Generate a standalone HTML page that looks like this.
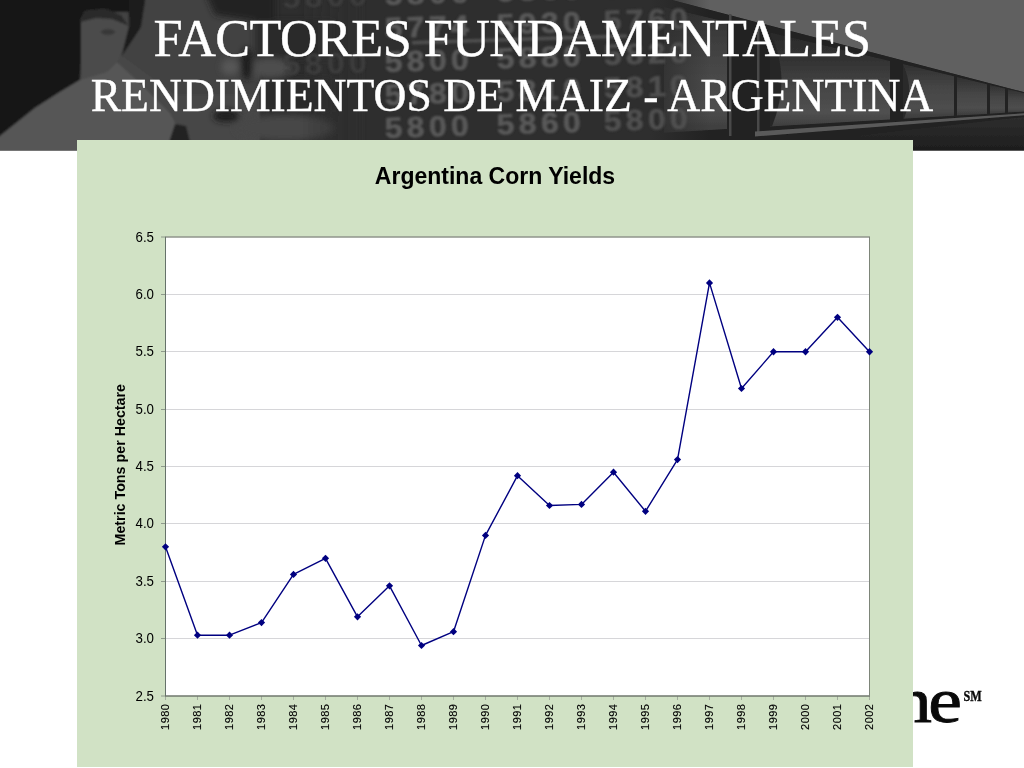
<!DOCTYPE html>
<html><head><meta charset="utf-8"><title>Argentina Corn Yields</title>
<style>
html,body{margin:0;padding:0;background:#fff;}
body{width:1024px;height:768px;position:relative;overflow:hidden;font-family:"Liberation Sans",sans-serif;}
#hdr{position:absolute;left:0;top:0;width:1024px;height:151px;background:#fff;overflow:hidden;}
.t{position:absolute;left:0;width:1024px;text-align:center;color:#fff;font-family:"Liberation Serif",serif;white-space:nowrap;}
#t1{top:8.6px;font-size:52.2px;line-height:58px;left:0px;letter-spacing:-0.55px;-webkit-text-stroke:0.4px #fff;}
#t2{top:70.1px;font-size:45.6px;line-height:52px;-webkit-text-stroke:0.4px #fff;}
#panel{position:absolute;left:77px;top:140px;width:836px;height:626px;background:#d2e3c8;}
#logo{position:absolute;font-family:"Liberation Serif",serif;color:#0a0a0a;}
svg{position:absolute;left:0;top:0;}
</style></head><body>
<div id="hdr"><svg width="1024" height="151" viewBox="0 0 1024 151" style="position:absolute;left:0;top:0">
<defs>
<filter id="b1" x="-5%" y="-20%" width="110%" height="140%"><feGaussianBlur stdDeviation="1.1"/></filter>
<filter id="b0" x="-5%" y="-20%" width="110%" height="140%"><feGaussianBlur stdDeviation="0.7"/></filter>
<filter id="b3" x="-20%" y="-30%" width="140%" height="160%"><feGaussianBlur stdDeviation="3"/></filter>
<linearGradient id="car" x1="0" y1="0" x2="0" y2="1"><stop offset="0" stop-color="#2a2a2a"/><stop offset="0.3" stop-color="#333"/><stop offset="0.6" stop-color="#464646"/><stop offset="0.85" stop-color="#505050"/><stop offset="1" stop-color="#3e3e3e"/></linearGradient>
<linearGradient id="car2" x1="0" y1="0" x2="0" y2="1"><stop offset="0" stop-color="#303030"/><stop offset="0.4" stop-color="#444"/><stop offset="0.8" stop-color="#4e4e4e"/><stop offset="1" stop-color="#3c3c3c"/></linearGradient>
<linearGradient id="fadeL" x1="0" y1="0" x2="1" y2="0"><stop offset="0" stop-color="#2e2e2e" stop-opacity="1"/><stop offset="1" stop-color="#2e2e2e" stop-opacity="0"/></linearGradient>
<linearGradient id="fadeM" x1="0" y1="0" x2="1" y2="0"><stop offset="0" stop-color="#2e2e2e" stop-opacity="0"/><stop offset="1" stop-color="#2e2e2e" stop-opacity="1"/></linearGradient>
<linearGradient id="gnd" x1="0" y1="0" x2="0" y2="1"><stop offset="0" stop-color="#2e2e2e"/><stop offset="1" stop-color="#1b1b1b"/></linearGradient>
<clipPath id="hc"><rect width="1024" height="150.5"/></clipPath>
</defs>
<g clip-path="url(#hc)">
<rect width="1024" height="151" fill="#2e2e2e"/>
<g filter="url(#b1)">
<rect x="-5" y="-5" width="265" height="160" fill="#434343"/>
<polygon points="-5,-5 132,-5 130,12 84,12 80,80 60,92 35,108 -5,140" fill="#181818"/>
<polygon points="81,20 85,11 105,9 121,15 129,26 125,42 119,60 107,72 81,80" fill="#4b4b4b"/>
<polygon points="81,22 85,11 105,9 121,15 129,26 112,19 96,18" fill="#2b2b2b"/>
<ellipse cx="108" cy="32" rx="7" ry="3" fill="#383838"/>
<polygon points="128,-5 146,-5 141,27 122,56 125,42 129,26" fill="#1a1a1a"/>
<polygon points="-5,140 35,108 60,92 80,80 107,72 117,62 141,84 170,113 190,150 -5,155" fill="#575757"/>
<polygon points="117,62 141,84 170,113 190,150 260,150 260,95 175,95 122,56" fill="#474747"/>
<polygon points="169,142 175,124 186,126 190,142" fill="#222"/>
</g>
<g filter="url(#b3)">
<polygon points="205,-8 275,-8 275,24 215,15" fill="#232323"/>
<rect x="255" y="20" width="80" height="40" fill="#2c2c2c"/>
<rect x="262" y="78" width="70" height="34" fill="#2c2c2c"/>
<ellipse cx="270" cy="68" rx="22" ry="10" fill="#4d4d4d"/>
<ellipse cx="247" cy="64" rx="6" ry="16" fill="#1c1c1c"/>
<ellipse cx="230" cy="67" rx="9" ry="8" fill="#575757"/>
<ellipse cx="226" cy="116" rx="13" ry="6" fill="#1b1b1b"/>
<ellipse cx="285" cy="128" rx="50" ry="13" fill="#474747"/>
<rect x="300" y="-5" width="60" height="160" fill="url(#fadeM)"/>
</g>
<g filter="url(#b0)">
<polygon points="650,-5 1030,-5 1030,93.8 672,0 650,-2" fill="#606060"/>
<polygon points="672,0 1030,93.8 1030,155 650,155 650,0" fill="#202020"/>
<polygon points="664,7.0 727,22.1 727,129.1 664,132.8" fill="url(#car2)"/>
<polygon points="770,32.4 890,61.0 890,119.6 770,126.6" fill="url(#car)"/>
<polygon points="903,64.1 954,76.3 954,115.8 903,118.8" fill="url(#car2)"/>
<polygon points="957,77.0 987,84.2 987,113.9 957,115.6" fill="url(#car2)"/>
<polygon points="990,84.9 1005,88.5 1005,112.8 990,113.7" fill="url(#car2)"/>
<polygon points="1008,89.2 1030,94.5 1030,111.3 1008,112.6" fill="url(#car2)"/>
<path d="M770,32.7 Q792,76.1 772,126.6 L770,126.6 Z" fill="#282828"/>
<path d="M903,64.5 Q915,89.7 904,118.8 L903,118.8 Z" fill="#2a2a2a"/>
<rect x="729" y="14" width="2.5" height="122" fill="#4a4a4a"/><rect x="757" y="22" width="2.5" height="114" fill="#4a4a4a"/>
<polygon points="755,131.5 1030,112.8 1030,114.8 755,136.5" fill="#5a5a5a"/>
<polygon points="860,135.3 1030,116.3 1030,155 840,155" fill="url(#gnd)"/>
</g>
<rect x="650" y="0" width="60" height="150" fill="url(#fadeL)"/>
<g filter="url(#b1)"><rect x="412" y="41" width="215" height="3.5" fill="#505050" transform="rotate(-1.8 412 43)"/></g>
<g filter="url(#b1)" font-family="Liberation Sans, sans-serif" font-weight="bold" font-size="29" fill="#595959" stroke="#595959" stroke-width="0.6" letter-spacing="4">
<text transform="translate(385,5) rotate(-1.8) scale(1.1,1)">5800</text>
<text transform="translate(497,1.5) rotate(-1.8) scale(1.1,1)">5860</text>
<text transform="translate(604,-2) rotate(-1.8) scale(1.1,1)" fill="#505050" stroke="#505050">5800</text>
<text transform="translate(283,8) rotate(-1.8) scale(1.1,1)" fill="#3d3d3d" stroke="none">5800</text>
<text transform="translate(385,38) rotate(-1.8) scale(1.1,1)">5774</text>
<text transform="translate(497,34.5) rotate(-1.8) scale(1.1,1)">5930</text>
<text transform="translate(604,31) rotate(-1.8) scale(1.1,1)" fill="#505050" stroke="#505050">5760</text>
<text transform="translate(385,72) rotate(-1.8) scale(1.1,1)">5800</text>
<text transform="translate(497,68.5) rotate(-1.8) scale(1.1,1)">5880</text>
<text transform="translate(604,65) rotate(-1.8) scale(1.1,1)" fill="#505050" stroke="#505050">5820</text>
<text transform="translate(283,75) rotate(-1.8) scale(1.1,1)" fill="#3d3d3d" stroke="none">5800</text>
<text transform="translate(385,105) rotate(-1.8) scale(1.1,1)">5780</text>
<text transform="translate(497,101.5) rotate(-1.8) scale(1.1,1)">5810</text>
<text transform="translate(604,98) rotate(-1.8) scale(1.1,1)" fill="#505050" stroke="#505050">5810</text>
<text transform="translate(385,138) rotate(-1.8) scale(1.1,1)">5800</text>
<text transform="translate(497,134.5) rotate(-1.8) scale(1.1,1)">5860</text>
<text transform="translate(604,131) rotate(-1.8) scale(1.1,1)" fill="#505050" stroke="#505050">5800</text>
</g>
</g></svg></div>
<svg width="1024" height="768" viewBox="0 0 1024 768" font-family="Liberation Sans, sans-serif" fill="#000">
<g font-family="Liberation Serif, serif" fill="#0a0a0a" stroke="#0a0a0a">
<text transform="translate(872.9,722.2) scale(1.2,1)" font-size="63.2" stroke-width="0.8">m</text>
<text transform="translate(928.3,722.2) scale(1.2,1)" font-size="63.2" stroke-width="0.8">e</text>
<text transform="translate(963.6,701) scale(0.88,1)" font-size="13.8" font-weight="bold" stroke-width="0.35">SM</text>
</g>
<rect x="77" y="140" width="836" height="627" fill="#d1e2c5"/>
<rect x="165.5" y="237.0" width="704.0" height="459.0" fill="#fff"/>
<line x1="165.5" y1="638.5" x2="869.5" y2="638.5" stroke="#d6d6d9" stroke-width="1"/>
<line x1="165.5" y1="581.5" x2="869.5" y2="581.5" stroke="#d6d6d9" stroke-width="1"/>
<line x1="165.5" y1="523.5" x2="869.5" y2="523.5" stroke="#d6d6d9" stroke-width="1"/>
<line x1="165.5" y1="466.5" x2="869.5" y2="466.5" stroke="#d6d6d9" stroke-width="1"/>
<line x1="165.5" y1="409.5" x2="869.5" y2="409.5" stroke="#d6d6d9" stroke-width="1"/>
<line x1="165.5" y1="351.5" x2="869.5" y2="351.5" stroke="#d6d6d9" stroke-width="1"/>
<line x1="165.5" y1="294.5" x2="869.5" y2="294.5" stroke="#d6d6d9" stroke-width="1"/>

<line x1="161" y1="696.0" x2="166" y2="696.0" stroke="#8e9a8b" stroke-width="1"/>
<line x1="161" y1="638.5" x2="166" y2="638.5" stroke="#8e9a8b" stroke-width="1"/>
<line x1="161" y1="581.5" x2="166" y2="581.5" stroke="#8e9a8b" stroke-width="1"/>
<line x1="161" y1="523.5" x2="166" y2="523.5" stroke="#8e9a8b" stroke-width="1"/>
<line x1="161" y1="466.5" x2="166" y2="466.5" stroke="#8e9a8b" stroke-width="1"/>
<line x1="161" y1="409.5" x2="166" y2="409.5" stroke="#8e9a8b" stroke-width="1"/>
<line x1="161" y1="351.5" x2="166" y2="351.5" stroke="#8e9a8b" stroke-width="1"/>
<line x1="161" y1="294.5" x2="166" y2="294.5" stroke="#8e9a8b" stroke-width="1"/>
<line x1="161" y1="237.0" x2="166" y2="237.0" stroke="#8e9a8b" stroke-width="1"/>
<line x1="165.5" y1="696" x2="165.5" y2="700" stroke="#a3ad9e" stroke-width="1"/>
<line x1="197.5" y1="696" x2="197.5" y2="700" stroke="#a3ad9e" stroke-width="1"/>
<line x1="229.5" y1="696" x2="229.5" y2="700" stroke="#a3ad9e" stroke-width="1"/>
<line x1="261.5" y1="696" x2="261.5" y2="700" stroke="#a3ad9e" stroke-width="1"/>
<line x1="293.5" y1="696" x2="293.5" y2="700" stroke="#a3ad9e" stroke-width="1"/>
<line x1="325.5" y1="696" x2="325.5" y2="700" stroke="#a3ad9e" stroke-width="1"/>
<line x1="357.5" y1="696" x2="357.5" y2="700" stroke="#a3ad9e" stroke-width="1"/>
<line x1="389.5" y1="696" x2="389.5" y2="700" stroke="#a3ad9e" stroke-width="1"/>
<line x1="421.5" y1="696" x2="421.5" y2="700" stroke="#a3ad9e" stroke-width="1"/>
<line x1="453.5" y1="696" x2="453.5" y2="700" stroke="#a3ad9e" stroke-width="1"/>
<line x1="485.5" y1="696" x2="485.5" y2="700" stroke="#a3ad9e" stroke-width="1"/>
<line x1="517.5" y1="696" x2="517.5" y2="700" stroke="#a3ad9e" stroke-width="1"/>
<line x1="549.5" y1="696" x2="549.5" y2="700" stroke="#a3ad9e" stroke-width="1"/>
<line x1="581.5" y1="696" x2="581.5" y2="700" stroke="#a3ad9e" stroke-width="1"/>
<line x1="613.5" y1="696" x2="613.5" y2="700" stroke="#a3ad9e" stroke-width="1"/>
<line x1="645.5" y1="696" x2="645.5" y2="700" stroke="#a3ad9e" stroke-width="1"/>
<line x1="677.5" y1="696" x2="677.5" y2="700" stroke="#a3ad9e" stroke-width="1"/>
<line x1="709.5" y1="696" x2="709.5" y2="700" stroke="#a3ad9e" stroke-width="1"/>
<line x1="741.5" y1="696" x2="741.5" y2="700" stroke="#a3ad9e" stroke-width="1"/>
<line x1="773.5" y1="696" x2="773.5" y2="700" stroke="#a3ad9e" stroke-width="1"/>
<line x1="805.5" y1="696" x2="805.5" y2="700" stroke="#a3ad9e" stroke-width="1"/>
<line x1="837.5" y1="696" x2="837.5" y2="700" stroke="#a3ad9e" stroke-width="1"/>
<line x1="869.5" y1="696" x2="869.5" y2="700" stroke="#a3ad9e" stroke-width="1"/>

<line x1="165" y1="237.0" x2="870" y2="237.0" stroke="#8f948b" stroke-width="1.5"/>
<line x1="165" y1="696.0" x2="870" y2="696.0" stroke="#6f776c" stroke-width="1.5"/>
<line x1="165.5" y1="237.0" x2="165.5" y2="696.0" stroke="#66726a" stroke-width="1"/>
<line x1="869.5" y1="237.0" x2="869.5" y2="696.0" stroke="#7d8579" stroke-width="1"/>
<g><text transform="translate(154,700.6) scale(0.93,1)" text-anchor="end" font-size="14.3">2.5</text>
<text transform="translate(154,643.1) scale(0.93,1)" text-anchor="end" font-size="14.3">3.0</text>
<text transform="translate(154,586.1) scale(0.93,1)" text-anchor="end" font-size="14.3">3.5</text>
<text transform="translate(154,528.1) scale(0.93,1)" text-anchor="end" font-size="14.3">4.0</text>
<text transform="translate(154,471.1) scale(0.93,1)" text-anchor="end" font-size="14.3">4.5</text>
<text transform="translate(154,414.1) scale(0.93,1)" text-anchor="end" font-size="14.3">5.0</text>
<text transform="translate(154,356.1) scale(0.93,1)" text-anchor="end" font-size="14.3">5.5</text>
<text transform="translate(154,299.1) scale(0.93,1)" text-anchor="end" font-size="14.3">6.0</text>
<text transform="translate(154,241.6) scale(0.93,1)" text-anchor="end" font-size="14.3">6.5</text>
</g>
<g><text transform="translate(169.2,729.9) rotate(-90)" font-size="11" stroke="#000" stroke-width="0.12" textLength="25.8" lengthAdjust="spacing">1980</text>
<text transform="translate(201.2,729.9) rotate(-90)" font-size="11" stroke="#000" stroke-width="0.12" textLength="25.8" lengthAdjust="spacing">1981</text>
<text transform="translate(233.2,729.9) rotate(-90)" font-size="11" stroke="#000" stroke-width="0.12" textLength="25.8" lengthAdjust="spacing">1982</text>
<text transform="translate(265.2,729.9) rotate(-90)" font-size="11" stroke="#000" stroke-width="0.12" textLength="25.8" lengthAdjust="spacing">1983</text>
<text transform="translate(297.2,729.9) rotate(-90)" font-size="11" stroke="#000" stroke-width="0.12" textLength="25.8" lengthAdjust="spacing">1984</text>
<text transform="translate(329.2,729.9) rotate(-90)" font-size="11" stroke="#000" stroke-width="0.12" textLength="25.8" lengthAdjust="spacing">1985</text>
<text transform="translate(361.2,729.9) rotate(-90)" font-size="11" stroke="#000" stroke-width="0.12" textLength="25.8" lengthAdjust="spacing">1986</text>
<text transform="translate(393.2,729.9) rotate(-90)" font-size="11" stroke="#000" stroke-width="0.12" textLength="25.8" lengthAdjust="spacing">1987</text>
<text transform="translate(425.2,729.9) rotate(-90)" font-size="11" stroke="#000" stroke-width="0.12" textLength="25.8" lengthAdjust="spacing">1988</text>
<text transform="translate(457.2,729.9) rotate(-90)" font-size="11" stroke="#000" stroke-width="0.12" textLength="25.8" lengthAdjust="spacing">1989</text>
<text transform="translate(489.2,729.9) rotate(-90)" font-size="11" stroke="#000" stroke-width="0.12" textLength="25.8" lengthAdjust="spacing">1990</text>
<text transform="translate(521.2,729.9) rotate(-90)" font-size="11" stroke="#000" stroke-width="0.12" textLength="25.8" lengthAdjust="spacing">1991</text>
<text transform="translate(553.2,729.9) rotate(-90)" font-size="11" stroke="#000" stroke-width="0.12" textLength="25.8" lengthAdjust="spacing">1992</text>
<text transform="translate(585.2,729.9) rotate(-90)" font-size="11" stroke="#000" stroke-width="0.12" textLength="25.8" lengthAdjust="spacing">1993</text>
<text transform="translate(617.2,729.9) rotate(-90)" font-size="11" stroke="#000" stroke-width="0.12" textLength="25.8" lengthAdjust="spacing">1994</text>
<text transform="translate(649.2,729.9) rotate(-90)" font-size="11" stroke="#000" stroke-width="0.12" textLength="25.8" lengthAdjust="spacing">1995</text>
<text transform="translate(681.2,729.9) rotate(-90)" font-size="11" stroke="#000" stroke-width="0.12" textLength="25.8" lengthAdjust="spacing">1996</text>
<text transform="translate(713.2,729.9) rotate(-90)" font-size="11" stroke="#000" stroke-width="0.12" textLength="25.8" lengthAdjust="spacing">1997</text>
<text transform="translate(745.2,729.9) rotate(-90)" font-size="11" stroke="#000" stroke-width="0.12" textLength="25.8" lengthAdjust="spacing">1998</text>
<text transform="translate(777.2,729.9) rotate(-90)" font-size="11" stroke="#000" stroke-width="0.12" textLength="25.8" lengthAdjust="spacing">1999</text>
<text transform="translate(809.2,729.9) rotate(-90)" font-size="11" stroke="#000" stroke-width="0.12" textLength="25.8" lengthAdjust="spacing">2000</text>
<text transform="translate(841.2,729.9) rotate(-90)" font-size="11" stroke="#000" stroke-width="0.12" textLength="25.8" lengthAdjust="spacing">2001</text>
<text transform="translate(873.2,729.9) rotate(-90)" font-size="11" stroke="#000" stroke-width="0.12" textLength="25.8" lengthAdjust="spacing">2002</text>
</g>
<text x="495" y="183.6" text-anchor="middle" font-size="23" font-weight="bold">Argentina Corn Yields</text>
<text transform="translate(125.3,545.5) rotate(-90)" font-size="14.67" font-weight="bold" textLength="161.5" lengthAdjust="spacingAndGlyphs">Metric Tons per Hectare</text>
<polyline points="165.5,546.8 197.5,635.2 229.5,635.2 261.5,622.6 293.5,574.4 325.5,558.3 357.5,616.8 389.5,585.8 421.5,645.5 453.5,631.7 485.5,535.4 517.5,475.7 549.5,505.5 581.5,504.4 613.5,472.2 645.5,511.3 677.5,459.6 709.5,282.9 741.5,388.5 773.5,351.8 805.5,351.8 837.5,317.3 869.5,351.8" fill="none" stroke="#000080" stroke-width="1.4" stroke-linejoin="round"/>
<path d="M165.5,543.2 L169.1,546.8 L165.5,550.4 L161.9,546.8 Z" fill="#000080"/>
<path d="M197.5,631.6 L201.1,635.2 L197.5,638.8 L193.9,635.2 Z" fill="#000080"/>
<path d="M229.5,631.6 L233.1,635.2 L229.5,638.8 L225.9,635.2 Z" fill="#000080"/>
<path d="M261.5,619.0 L265.1,622.6 L261.5,626.2 L257.9,622.6 Z" fill="#000080"/>
<path d="M293.5,570.8 L297.1,574.4 L293.5,578.0 L289.9,574.4 Z" fill="#000080"/>
<path d="M325.5,554.7 L329.1,558.3 L325.5,561.9 L321.9,558.3 Z" fill="#000080"/>
<path d="M357.5,613.2 L361.1,616.8 L357.5,620.4 L353.9,616.8 Z" fill="#000080"/>
<path d="M389.5,582.2 L393.1,585.8 L389.5,589.4 L385.9,585.8 Z" fill="#000080"/>
<path d="M421.5,641.9 L425.1,645.5 L421.5,649.1 L417.9,645.5 Z" fill="#000080"/>
<path d="M453.5,628.1 L457.1,631.7 L453.5,635.3 L449.9,631.7 Z" fill="#000080"/>
<path d="M485.5,531.8 L489.1,535.4 L485.5,539.0 L481.9,535.4 Z" fill="#000080"/>
<path d="M517.5,472.1 L521.1,475.7 L517.5,479.3 L513.9,475.7 Z" fill="#000080"/>
<path d="M549.5,501.9 L553.1,505.5 L549.5,509.1 L545.9,505.5 Z" fill="#000080"/>
<path d="M581.5,500.8 L585.1,504.4 L581.5,508.0 L577.9,504.4 Z" fill="#000080"/>
<path d="M613.5,468.6 L617.1,472.2 L613.5,475.8 L609.9,472.2 Z" fill="#000080"/>
<path d="M645.5,507.7 L649.1,511.3 L645.5,514.9 L641.9,511.3 Z" fill="#000080"/>
<path d="M677.5,456.0 L681.1,459.6 L677.5,463.2 L673.9,459.6 Z" fill="#000080"/>
<path d="M709.5,279.3 L713.1,282.9 L709.5,286.5 L705.9,282.9 Z" fill="#000080"/>
<path d="M741.5,384.9 L745.1,388.5 L741.5,392.1 L737.9,388.5 Z" fill="#000080"/>
<path d="M773.5,348.1 L777.1,351.8 L773.5,355.4 L769.9,351.8 Z" fill="#000080"/>
<path d="M805.5,348.1 L809.1,351.8 L805.5,355.4 L801.9,351.8 Z" fill="#000080"/>
<path d="M837.5,313.7 L841.1,317.3 L837.5,320.9 L833.9,317.3 Z" fill="#000080"/>
<path d="M869.5,348.1 L873.1,351.8 L869.5,355.4 L865.9,351.8 Z" fill="#000080"/>

</svg>
<div class="t" id="t1">FACTORES FUNDAMENTALES</div>
<div class="t" id="t2">RENDIMIENTOS DE MAIZ - ARGENTINA</div>
</body></html>
